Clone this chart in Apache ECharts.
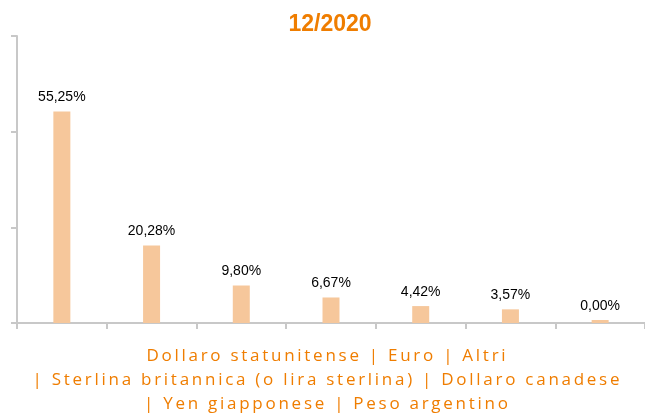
<!DOCTYPE html>
<html><head><meta charset="utf-8">
<script src="https://cdn.jsdelivr.net/npm/echarts@6/dist/echarts.min.js"></script>
<style>html,body{margin:0;padding:0;background:#fff}#c{width:645px;height:414px}</style>
</head><body><div id="c"></div>
<script>
const categories = ['Dollaro statunitense','Euro','Altri','Sterlina britannica (o lira sterlina)','Dollaro canadese','Yen giapponese','Peso argentino'];
const values = [55.25, 20.28, 9.80, 6.67, 4.42, 3.57, 0.00];
const titleText = '12/2020';
const axisLines = ['Dollaro statunitense | Euro | Altri', '| Sterlina britannica (o lira sterlina) | Dollaro canadese', '| Yen giapponese | Peso argentino'];

const axisFont = '17px "Open Sans"';
// letter spacing so that the widest line spans ~590px, like the reference
const mctx = document.createElement('canvas').getContext('2d');
mctx.font = axisFont;
const w2 = mctx.measureText(axisLines[1]).width;
const spacing = Math.max(0, (590 - w2) / axisLines[1].length);
const proto = CanvasRenderingContext2D.prototype;
const origFill = proto.fillText;
proto.fillText = function (t, x, y, m) {
  if (axisLines.indexOf(t) >= 0 && 'letterSpacing' in this) {
    const old = this.letterSpacing;
    const f = this.font;
    this.letterSpacing = spacing.toFixed(2) + 'px';
    this.font = f;
    m === undefined ? origFill.call(this, t, x + spacing / 2, y) : origFill.call(this, t, x + spacing / 2, y, m);
    this.letterSpacing = old;
    this.font = f;
  } else {
    m === undefined ? origFill.call(this, t, x, y) : origFill.call(this, t, x, y, m);
  }
};

const chart = echarts.init(document.getElementById('c'));
chart.setOption({
  animation: false,
  graphic: [{
    type: 'text', x: 330, y: 25,
    style: {text: titleText, fill: '#ef7d00', font: 'bold 23px Arial, sans-serif', align: 'center', verticalAlign: 'middle'}
  }].concat(axisLines.map((t, i) => ({
    type: 'text', x: 326, y: 356 + i * 24, zlevel: 1,
    style: {text: t, fill: '#ef7d00', font: axisFont, align: 'center', verticalAlign: 'middle'}
  }))),
  grid: {left: 17, right: 0, top: 36, bottom: 91, containLabel: false},
  xAxis: {
    type: 'category', data: categories,
    axisLine: {lineStyle: {color: '#c8c8c8', width: 2}},
    axisTick: {show: true, interval: 0, length: 6, lineStyle: {color: '#c8c8c8', width: 2}},
    axisLabel: {show: false}
  },
  yAxis: {
    type: 'value', min: 0, max: 75, interval: 25,
    axisLine: {show: true, lineStyle: {color: '#c8c8c8', width: 2}},
    axisTick: {show: true, length: 6, lineStyle: {color: '#c8c8c8', width: 2}},
    axisLabel: {show: false},
    splitLine: {show: false}
  },
  series: [{
    type: 'bar', data: values, barWidth: 17, barMinHeight: 3,
    itemStyle: {color: '#f6c79b'},
    label: {show: true, position: 'top', distance: 7, color: '#000', fontSize: 14, fontFamily: 'Arial, Helvetica, sans-serif',
      formatter: p => p.value.toFixed(2).replace('.', ',') + '%'}
  }]
});
</script></body></html>
